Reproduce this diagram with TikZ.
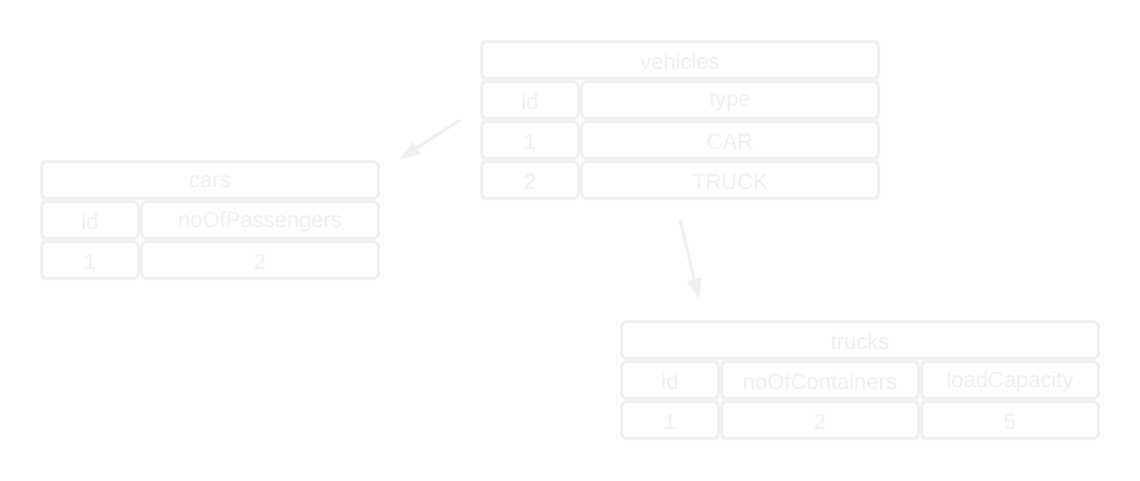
\documentclass[tikz,border=0pt]{standalone}
\usepackage{fontspec}
\setmainfont{Liberation Sans}
\usetikzlibrary{arrows.meta}
\definecolor{ink}{RGB}{240,240,240}
\newcommand\lowr[1]{\raisebox{-2pt}[\height][\depth]{#1}}
\tikzset{
  cell/.style={draw=ink, line width=3pt, rounded corners=5pt, text=ink,
    font=\fontsize{22}{26}\selectfont, inner sep=0pt, minimum height=37pt},
  wA/.style={cell, minimum width=97pt},
  wB/.style={cell, minimum width=297pt},
  wC/.style={cell, minimum width=397pt},
  wD/.style={cell, minimum width=237pt},
  wE/.style={cell, minimum width=337pt},
  wF/.style={cell, minimum width=197pt},
  wG/.style={cell, minimum width=177pt},
  wH/.style={cell, minimum width=477pt},
  conn/.style={draw=ink, line width=3pt, -{Triangle[width=14pt,length=20pt]}}
}
\begin{document}
\begin{tikzpicture}[x=1pt,y=-1pt]
\fill[white] (0,0) rectangle (1140,480);
\useasboundingbox (0,0) rectangle (1140,480);
% vehicles
\node[wC] (vT) at (680,60) {\lowr{vehicles}};
\node[wA] (vH1) at (530,100) {\lowr{id}};
\node[wB] (vH2) at (730,100) {\lowr{type}};
\node[wA] (v11) at (530,140) {\lowr{1}};
\node[wB] (v12) at (730,140) {\lowr{CAR}};
\node[wA] (v21) at (530,180) {\lowr{2}};
\node[wB] (v22) at (730,180) {\lowr{TRUCK}};
% cars
\node[wE] (cT) at (210,180) {\lowr{cars}};
\node[wA] (cH1) at (90,220) {\lowr{id}};
\node[wD] (cH2) at (260,220) {\lowr{noOfPassengers}};
\node[wA] (c11) at (90,260) {\lowr{1}};
\node[wD] (c12) at (260,260) {\lowr{2}};
% trucks
\node[wH] (tT) at (860,340) {\lowr{trucks}};
\node[wA] (tH1) at (670,380) {\lowr{id}};
\node[wF] (tH2) at (820,380) {\lowr{noOfContainers}};
\node[wG] (tH3) at (1010,380) {\lowr{loadCapacity}};
\node[wA] (t11) at (670,420) {\lowr{1}};
\node[wF] (t12) at (820,420) {\lowr{2}};
\node[wG] (t13) at (1010,420) {\lowr{5}};
% connectors
\coordinate (a1s) at (460,120);
\coordinate (a1e) at (400,159);
\coordinate (a2s) at (680,220);
\coordinate (a2e) at (699,299);
\draw[conn] (a1s) -- (a1e);
\draw[conn] (a2s) -- (a2e);
\end{tikzpicture}
\end{document}
